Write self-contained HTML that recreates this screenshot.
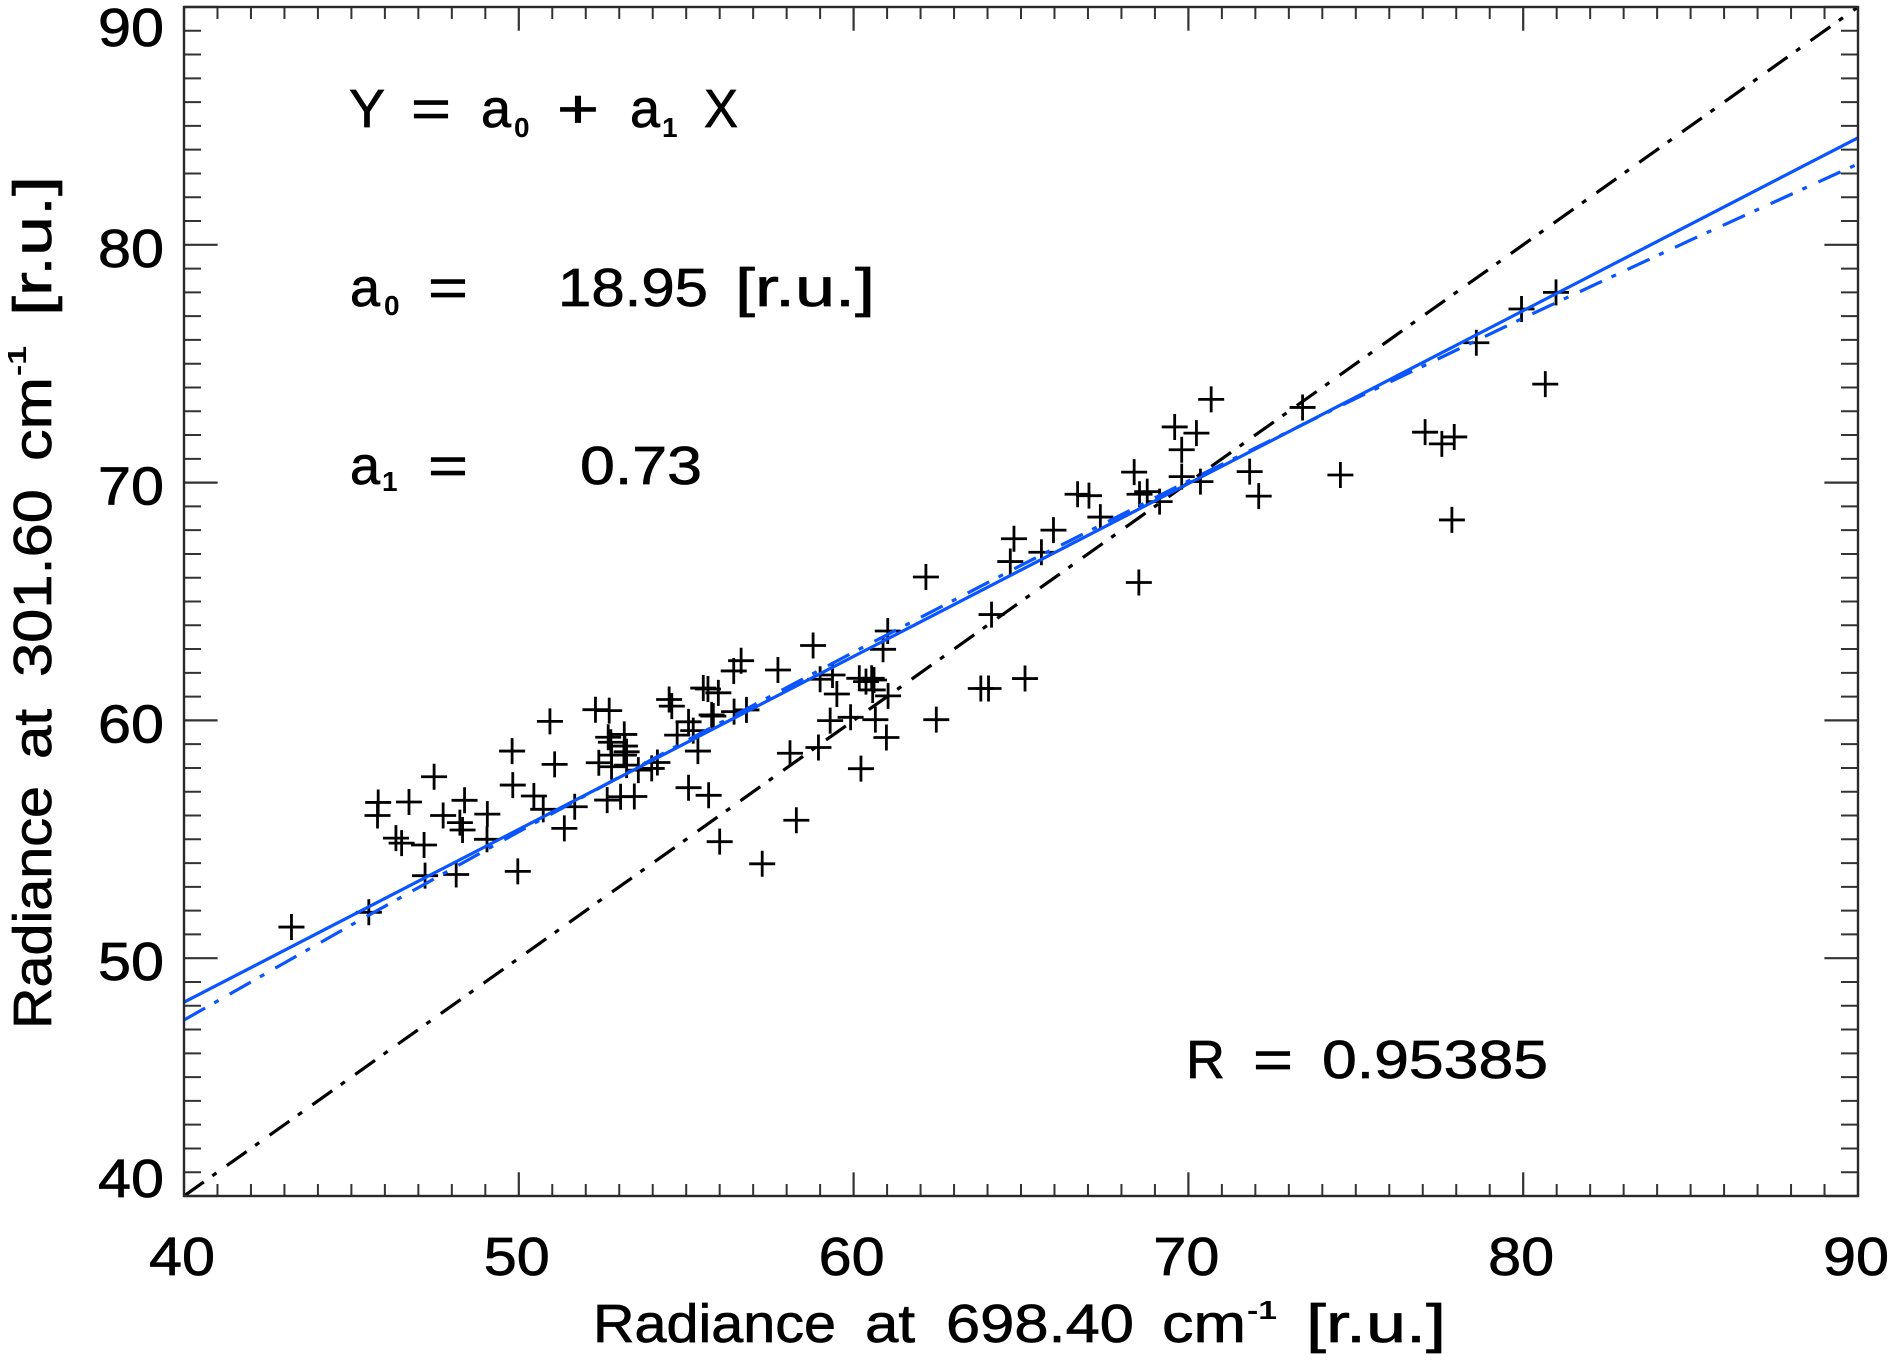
<!DOCTYPE html>
<html lang="en">
<head>
<meta charset="utf-8">
<title>Radiance scatter plot</title>
<style>
html,body{margin:0;padding:0;background:#fff;}
svg{display:block;}
text{font-family:"Liberation Sans",sans-serif;font-size:54px;fill:#000;stroke:#000;stroke-width:0.7px;}
.sub{font-size:28px;font-weight:bold;stroke-width:0;}
.sup{font-size:26px;font-weight:bold;stroke-width:0;}
</style>
</head>
<body>
<svg id="chart" xmlns="http://www.w3.org/2000/svg" width="1892" height="1365" viewBox="0 0 1892 1365">
  <defs><clipPath id="plot-clip"><rect x="184" y="7" width="1674" height="1189"/></clipPath></defs>
  <g id="ticks"></g>
  <g id="tick-labels"></g>
  <g id="marks" clip-path="url(#plot-clip)"></g>
  <rect x="184" y="7" width="1674" height="1189" fill="none" stroke="#2a2a2a" stroke-width="2.4"/>

  <g>
    <text x="593" y="1342" textLength="243" lengthAdjust="spacingAndGlyphs">Radiance</text>
    <text x="865" y="1342" textLength="50" lengthAdjust="spacingAndGlyphs">at</text>
    <text x="946" y="1342" textLength="188" lengthAdjust="spacingAndGlyphs">698.40</text>
    <text x="1162" y="1342" textLength="84" lengthAdjust="spacingAndGlyphs">cm</text>
    <text class="sup" x="1247" y="1319" textLength="30" lengthAdjust="spacingAndGlyphs">-1</text>
    <text x="1306" y="1342" textLength="140" lengthAdjust="spacingAndGlyphs">[r.u.]</text>
  </g>

  <g transform="translate(51 0) rotate(-90)">
    <text x="-1029" y="0" textLength="243" lengthAdjust="spacingAndGlyphs">Radiance</text>
    <text x="-759" y="0" textLength="50" lengthAdjust="spacingAndGlyphs">at</text>
    <text x="-677" y="0" textLength="188" lengthAdjust="spacingAndGlyphs">301.60</text>
    <text x="-461" y="0" textLength="84" lengthAdjust="spacingAndGlyphs">cm</text>
    <text class="sup" x="-376" y="-25" textLength="30" lengthAdjust="spacingAndGlyphs">-1</text>
    <text x="-316" y="0" textLength="140" lengthAdjust="spacingAndGlyphs">[r.u.]</text>
  </g>

  <g>
    <text x="349" y="127">Y</text>
    <text x="411" y="127" textLength="40" lengthAdjust="spacingAndGlyphs">=</text>
    <text x="481" y="127">a</text>
    <text class="sub" x="514" y="137">0</text>
    <text x="557" y="127" textLength="42" lengthAdjust="spacingAndGlyphs">+</text>
    <text x="630" y="127">a</text>
    <text class="sub" x="662" y="137">1</text>
    <text x="704" y="127" textLength="34" lengthAdjust="spacingAndGlyphs">X</text>
  </g>
  <g>
    <text x="350" y="306">a</text>
    <text class="sub" x="384" y="315">0</text>
    <text x="428" y="306" textLength="40" lengthAdjust="spacingAndGlyphs">=</text>
    <text x="558" y="306" textLength="150" lengthAdjust="spacingAndGlyphs">18.95</text>
    <text x="735" y="306" textLength="140" lengthAdjust="spacingAndGlyphs">[r.u.]</text>
  </g>
  <g>
    <text x="350" y="484">a</text>
    <text class="sub" x="382" y="491">1</text>
    <text x="428" y="484" textLength="40" lengthAdjust="spacingAndGlyphs">=</text>
    <text x="580" y="484" textLength="122" lengthAdjust="spacingAndGlyphs">0.73</text>
  </g>
  <g>
    <text x="1186" y="1078">R</text>
    <text x="1253" y="1078" textLength="40" lengthAdjust="spacingAndGlyphs">=</text>
    <text x="1322" y="1078" textLength="226" lengthAdjust="spacingAndGlyphs">0.95385</text>
  </g>
</svg>
<script>
var tickValues = [40, 50, 60, 70, 80, 90];
var xTickLabels = ["40", "50", "60", "70", "80", "90"];
var yTickLabels = ["40", "50", "60", "70", "80", "90"];
var axisMin = 40;
var axisMax = 90;

var identityX = [40, 90];
var identityY = [40, 90];
var fitX = [40, 90];
var fitY = [48.15, 84.5];
var curveX = [40, 45, 50, 55, 60, 65, 70, 75, 80, 85, 90];
var curveY = [47.4, 51.4, 55.32, 59.14, 62.87, 66.52, 70.07, 73.54, 76.92, 80.2, 83.4];

var pointX = [43.21,45.52,45.80,45.78,46.72,47.47,46.33,46.50,47.17,47.20,48.13,47.74,48.38,48.24,48.32,49.06,49.05,49.97,49.80,49.82,50.93,51.07,50.45,50.73,51.36,51.67,52.29,52.70,
52.67,52.75,53.15,53.17,53.22,52.39,52.77,52.77,53.14,53.22,53.57,52.64,53.04,53.45,53.97,54.14,54.49,54.57,55.07,55.67,56.00,54.73,55.07,55.21,55.35,55.51,55.65,55.96,55.76,55.81,56.42,56.64,56.43,56.80,
57.74,58.79,59.37,59.00,59.50,59.30,59.91,58.10,58.95,60.22,60.98,60.65,61.03,60.17,60.37,60.54,60.61,60.57,60.88,61.02,62.47,62.16,63.80,64.03,65.12,64.12,64.68,64.79,65.61,65.97,67.37,68.52,
66.69,67.03,68.38,68.54,68.77,69.14,69.59,69.80,69.80,70.24,70.68,70.36,71.83,72.10,73.41,74.54,77.07,77.57,77.94,77.87,80.66,78.60,79.95,80.98,57.27,58.29];
var pointY = [51.31,51.93,56.55,56.00,56.57,57.63,55.05,54.84,54.76,53.47,53.52,56.00,56.64,55.70,55.39,56.06,55.00,53.65,58.71,57.28,59.96,58.15,56.82,56.26,55.46,56.37,60.45,60.41,
59.29,59.08,59.41,58.92,58.68,58.22,58.54,58.05,58.54,58.12,57.91,56.65,56.79,56.80,57.98,58.23,60.88,60.60,57.17,56.85,54.90,59.38,59.94,59.57,58.71,61.36,61.32,61.16,60.23,60.18,62.08,62.51,60.37,60.44,
62.12,63.15,61.91,61.73,61.11,59.99,60.13,58.62,58.86,57.97,59.28,60.03,61.03,61.77,61.63,61.77,61.70,61.28,62.99,63.76,60.03,66.03,61.34,61.34,61.76,64.45,66.68,67.64,67.07,68.00,68.55,65.80,
69.51,69.45,70.44,69.51,69.62,69.20,72.34,71.38,70.25,72.08,73.50,70.04,70.46,69.43,73.16,70.32,72.12,71.63,71.92,68.43,74.14,75.88,77.30,78.00,53.97,55.80];

var NS = "http://www.w3.org/2000/svg";
var plotLeft = 184, plotRight = 1858, plotTop = 7, plotBottom = 1196;
function sx(v) { return plotLeft + (v - axisMin) / (axisMax - axisMin) * (plotRight - plotLeft); }
function sy(v) { return plotBottom - (v - axisMin) / (axisMax - axisMin) * (plotBottom - plotTop); }

var ticksG = document.getElementById("ticks");
var labelsG = document.getElementById("tick-labels");
var marksG = document.getElementById("marks");

function tickPath(d, major) {
  var p = document.createElementNS(NS, "path");
  p.setAttribute("d", d);
  p.setAttribute("stroke", "#333");
  p.setAttribute("stroke-width", major ? "2.2" : "2");
  p.setAttribute("fill", "none");
  
  
  ticksG.appendChild(p);
}

for (var t = axisMin; t <= axisMax; t += 1) {
  var isMajor = tickValues.indexOf(t) >= 0;
  var lenX = isMajor ? 23.7 : 12;
  var lenY = isMajor ? 33.6 : 17;
  var px = sx(t), py = sy(t);
  tickPath("M" + px + " " + plotBottom + "V" + (plotBottom - lenX), isMajor);
  tickPath("M" + px + " " + plotTop + "V" + (plotTop + lenX), isMajor);
  tickPath("M" + plotLeft + " " + py + "H" + (plotLeft + lenY), isMajor);
  tickPath("M" + plotRight + " " + py + "H" + (plotRight - lenY), isMajor);
}

tickValues.forEach(function (v, i) {
  var xl = document.createElementNS(NS, "text");
  xl.textContent = xTickLabels[i];
  xl.setAttribute("x", sx(v) - 2);
  xl.setAttribute("y", 1275);
  xl.setAttribute("text-anchor", "middle");
  xl.setAttribute("textLength", 66);
  xl.setAttribute("lengthAdjust", "spacingAndGlyphs");
  
  
  labelsG.appendChild(xl);

  var yl = document.createElementNS(NS, "text");
  yl.textContent = yTickLabels[i];
  var baseline = sy(v) + 22;
  if (i === 0) baseline = sy(v) + 1;
  if (i === tickValues.length - 1) baseline = sy(v) + 39;
  yl.setAttribute("x", 164);
  yl.setAttribute("y", baseline);
  yl.setAttribute("text-anchor", "end");
  yl.setAttribute("textLength", 66);
  yl.setAttribute("lengthAdjust", "spacingAndGlyphs");
  
  
  labelsG.appendChild(yl);
});

function polyline(xs, ys, color, dash) {
  var pts = xs.map(function (x, i) { return sx(x) + "," + sy(ys[i]); }).join(" ");
  var l = document.createElementNS(NS, "polyline");
  l.setAttribute("points", pts);
  l.setAttribute("fill", "none");
  l.setAttribute("stroke", color);
  l.setAttribute("stroke-width", "3.2");
  if (dash) l.setAttribute("stroke-dasharray", dash);
  marksG.appendChild(l);
  return l;
}

var dashDot = "24.3 10.5 5 12.7";

pointX.forEach(function (x, i) {
  var cx = sx(x), cy = sy(pointY[i]);
  var m = document.createElementNS(NS, "path");
  m.setAttribute("d", "M" + (cx - 13) + " " + cy + "H" + (cx + 13) + "M" + cx + " " + (cy - 13) + "V" + (cy + 13));
  m.setAttribute("stroke", "#000");
  m.setAttribute("stroke-width", "2.8");
  m.setAttribute("fill", "none");
  
  
  marksG.appendChild(m);
});

var identityLine = polyline(identityX, identityY, "#000", dashDot);



var curveLine = polyline(curveX, curveY, "#0a55ff", dashDot);



var fitLine = polyline(fitX, fitY, "#0a55ff", null);


</script>
</body>
</html>
